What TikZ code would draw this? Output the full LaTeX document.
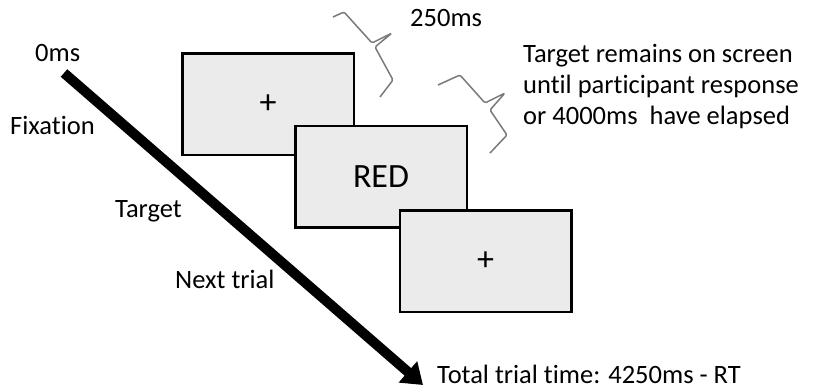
\documentclass[tikz,border=0pt]{standalone}
\usepackage{fontspec}
\setmainfont{Carlito}[Ligatures=NoCommon]
\usetikzlibrary{arrows.meta}
\definecolor{boxgray}{HTML}{EBEBEB}
\definecolor{bracegray}{HTML}{7A7A7A}
\begin{document}
\begin{tikzpicture}[x=1pt,y=-1pt,
  screen/.style={draw=black,line width=2.5pt,fill=boxgray,minimum width=171.5pt,minimum height=101.5pt,inner sep=0pt,font=\fontsize{34}{40}\selectfont},
  lbl/.style={anchor=base west,inner sep=0pt,font=\fontsize{26.5}{32}\selectfont},
  bracepath/.style={draw=bracegray,line width=1.5pt,rounded corners=1.5pt,line join=round}]
\useasboundingbox (0,0) rectangle (813,391);
% timeline arrow
\coordinate (t0) at (64,73);
\coordinate (t1) at (423,385);
\draw[line width=10pt,-{Triangle[length=20pt,width=27pt]}] (t0) -- (t1);
% screens
\node[screen] (fix) at (268,104) {+};
\node[screen] (tgt) at (381,176.5) {RED};
\node[screen] (nxt) at (485.5,261) {+};
% braces
\draw[bracepath] (333,17) -- (344,12) -- (372,43) -- (392,33) -- (375,47) -- (393,80) -- (380,97);
\draw[bracepath] (438,85) -- (460,75) -- (485,103) -- (505,93) -- (490,110) -- (507,135) -- (490,153);
% labels
\node[lbl] (l0) at (35,61) {0ms};
\node[lbl] (lfix) at (10,134) {Fixation};
\node[lbl] (ltgt) at (115,217) {Target};
\node[lbl] (lnxt) at (175,288) {Next trial};
\node[lbl] (l250) at (410,26) {250ms};
\node[lbl] (lrem1) at (523,62) {Target remains on screen};
\node[lbl] (lrem2) at (523,93) {until participant response};
\node[lbl] (lrem3) at (523,124) {or 4000ms~ have elapsed};
\node[lbl] (ltot) at (437,383) {Total trial time: 4250ms - RT};
\end{tikzpicture}
\end{document}
